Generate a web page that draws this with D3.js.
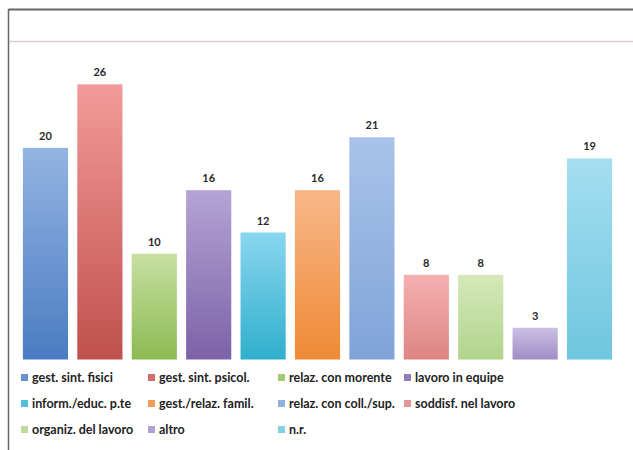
<!DOCTYPE html>
<html>
<head>
<meta charset="utf-8">
<script src="https://cdn.jsdelivr.net/npm/d3@7"></script>
<style>
  html, body { margin: 0; padding: 0; background: #fff; }
  svg { display: block; }
</style>
</head>
<body>
<svg id="chart" width="633" height="450"></svg>
<script>
// Categories and counts
const categories = [
  "gest. sint. fisici", "gest. sint. psicol.", "relaz. con morente", "lavoro in equipe",
  "inform./educ. p.te", "gest./relaz. famil.", "relaz. con coll./sup.", "soddisf. nel lavoro",
  "organiz. del lavoro", "altro", "n.r."
];
const values = [20, 26, 10, 16, 12, 16, 21, 8, 8, 3, 19];
// Gradient colours per bar: [top, bottom]
const topColors = ["#93b4e2", "#f29b9a", "#c6e0a2", "#b4a4d4", "#8ad6f0", "#f8b789", "#a9c3ea", "#f4b0b0", "#d4e9b9", "#cbc0e4", "#a6def0"];
const bottomColors = ["#4a7cc2", "#c0504d", "#8cba52", "#7c62a8", "#2fafcc", "#ef8a35", "#80a3d8", "#dd8583", "#b1d48c", "#a08dc6", "#6ec6df"];

const svg = d3.select("#chart");

// Frame
svg.append("line").attr("x1", 8.5).attr("x2", 633).attr("y1", 9.5).attr("y2", 9.5)
  .attr("stroke", "#666").attr("stroke-width", 1.8);
svg.append("line").attr("x1", 8.5).attr("x2", 8.5).attr("y1", 9).attr("y2", 450)
  .attr("stroke", "#666").attr("stroke-width", 1.5);
svg.append("line").attr("x1", 9).attr("x2", 633).attr("y1", 41.5).attr("y2", 41.5)
  .attr("stroke", "#d9cccb").attr("stroke-width", 1.5);

// Scales
const x = d3.scaleBand().domain(categories).range([18, 617]).paddingInner(0.17).paddingOuter(0.09);
const y = d3.scaleLinear().domain([0, 30]).range([359.5, 42]);

// Gradients
const defs = svg.append("defs");
categories.forEach((c, i) => {
  const g = defs.append("linearGradient").attr("id", "g" + i)
    .attr("x1", 0).attr("y1", 0).attr("x2", 0).attr("y2", 1);
  g.append("stop").attr("offset", "0%").attr("stop-color", topColors[i]);
  g.append("stop").attr("offset", "100%").attr("stop-color", bottomColors[i]);
});

// Bars
svg.append("g").selectAll("rect").data(values).join("rect")
  .attr("x", (d, i) => x(categories[i]))
  .attr("y", d => y(d))
  .attr("width", x.bandwidth())
  .attr("height", d => y(0) - y(d))
  .attr("fill", (d, i) => `url(#g${i})`);

// Value labels
svg.append("g").selectAll("text").data(values).join("text")
  .attr("x", (d, i) => x(categories[i]) + x.bandwidth() / 2)
  .attr("y", d => y(d) - 8)
  .attr("text-anchor", "middle")
  .attr("font-family", "Lato, 'Open Sans', sans-serif")
  .attr("font-size", 11)
  .attr("font-weight", 700)
  .attr("fill", "#2a2a2a")
  .text(d => d);

// Legend: 4 columns, 3 rows
const colX = [21, 148, 278, 404];
const rowY = [378, 404, 430];
const legend = svg.append("g").selectAll("g").data(categories).join("g")
  .attr("transform", (d, i) => `translate(${colX[i % 4]},${rowY[Math.floor(i / 4)]})`);
legend.append("rect").attr("x", 0).attr("y", -4).attr("width", 7).attr("height", 7)
  .attr("fill", (d, i) => d3.interpolateRgb(topColors[i], bottomColors[i])(0.6));
legend.append("text").attr("x", 11).attr("y", 4)
  .attr("font-family", "Lato, 'Open Sans', sans-serif")
  .attr("font-size", 12.5)
  .attr("font-weight", 700)
  .attr("fill", "#222")
  .text(d => d);
</script>
</body>
</html>
